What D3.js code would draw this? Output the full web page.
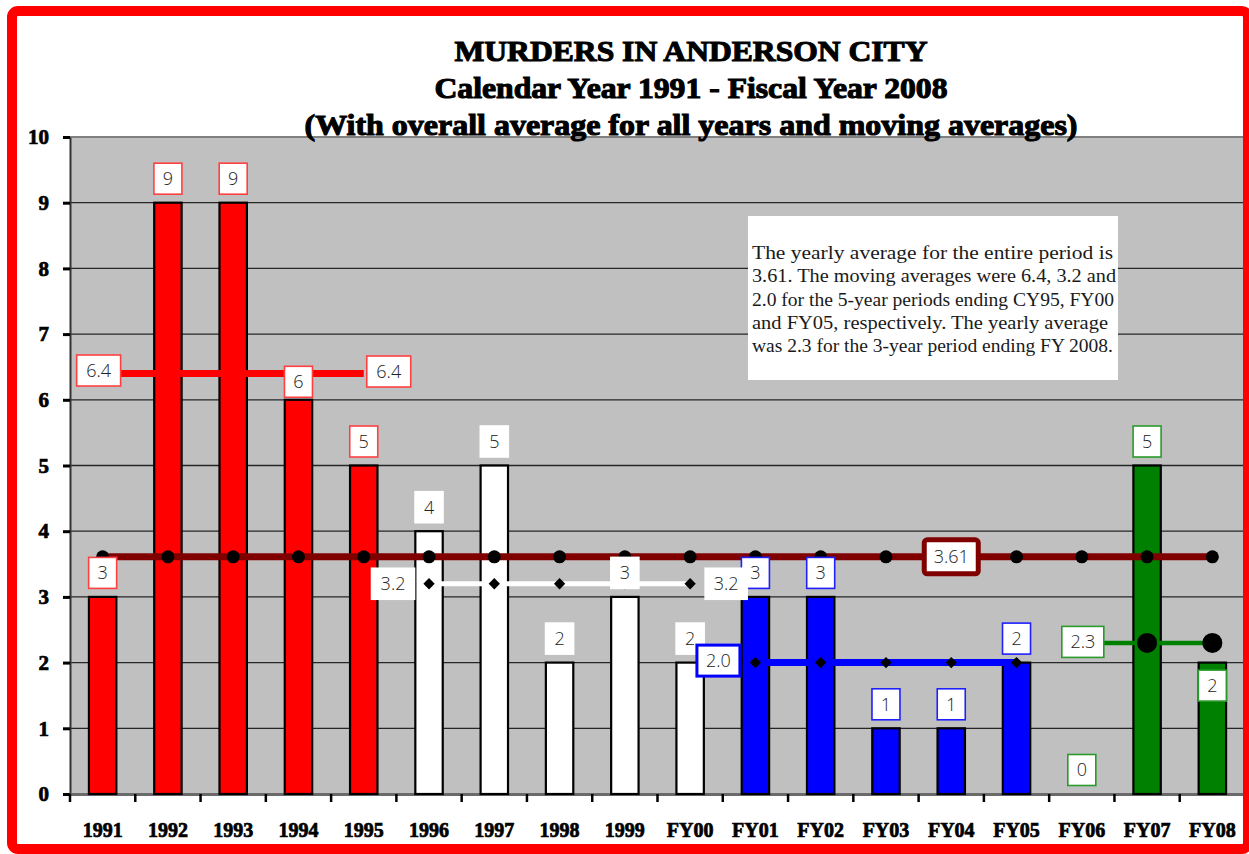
<!DOCTYPE html>
<html>
<head>
<meta charset="utf-8">
<script src="https://cdn.jsdelivr.net/npm/d3@7/dist/d3.min.js"></script>
<style>
  body { margin: 0; background: #fff; }
  svg { display: block; }
</style>
</head>
<body>
<script>
var width = 1249,
    height = 854;

// data
var categories = ['1991', '1992', '1993', '1994', '1995', '1996', '1997', '1998', '1999',
                  'FY00', 'FY01', 'FY02', 'FY03', 'FY04', 'FY05', 'FY06', 'FY07', 'FY08'];
var murders = [3, 9, 9, 6, 5, 4, 5, 2, 3, 2, 3, 3, 1, 1, 2, 0, 5, 2];
var period = [0, 0, 0, 0, 0, 1, 1, 1, 1, 1, 2, 2, 2, 2, 2, 3, 3, 3];
var overallAverage = 3.61;
var movingAverages = [6.4, 3.2, 2.0, 2.3];
var movingLabels = ['6.4', '3.2', '2.0', '2.3'];
var yTicks = [0, 1, 2, 3, 4, 5, 6, 7, 8, 9, 10];
var titleLines = ['MURDERS IN ANDERSON CITY',
                  'Calendar Year 1991 - Fiscal Year 2008',
                  '(With overall average for all years and moving averages)'];
var noteLines = ['The yearly average for the entire period is',
                 '3.61.  The moving averages were 6.4, 3.2 and',
                 '2.0 for the 5-year periods ending CY95, FY00',
                 'and FY05, respectively.  The yearly average',
                 'was 2.3 for the 3-year period ending FY 2008.'];

var barFill = ['#ff0000', '#ffffff', '#0000ff', '#008000'],
    labelStroke = ['#ff4040', '#ffffff', '#2020ff', '#2a9a2a'],
    lineColor = ['#ff0000', '#ffffff', '#0000ff', '#008000'];

var plotL = 70, plotR = 1245, plotT = 137, plotB = 794;

var x = d3.scaleBand().domain(categories).range([plotL, plotR]),
    y = d3.scaleLinear().domain([0, 10]).range([plotB, plotT]);
var cx = function(c) { return x(c) + x.bandwidth() / 2; };
var barW = x.bandwidth() * 0.42;

var svg = d3.select('body').append('svg')
    .attr('width', width)
    .attr('height', height);

svg.append('rect')
    .attr('width', width).attr('height', height)
    .attr('fill', '#fff');

// plot background
svg.append('rect')
    .attr('x', plotL).attr('y', plotT)
    .attr('width', plotR - plotL).attr('height', plotB - plotT)
    .attr('fill', '#c0c0c0');
svg.append('line')
    .attr('x1', plotL).attr('x2', plotR).attr('y1', plotT).attr('y2', plotT)
    .attr('stroke', '#808080').attr('stroke-width', 2);

// gridlines
svg.append('g').selectAll('line')
    .data(yTicks.slice(1, -1))
    .join('line')
    .attr('x1', plotL).attr('x2', plotR)
    .attr('y1', function(d) { return y(d); })
    .attr('y2', function(d) { return y(d); })
    .attr('stroke', '#262626').attr('stroke-width', 1.3);

// y axis
var yAxis = svg.append('g')
    .attr('transform', 'translate(' + plotL + ',0)')
    .call(d3.axisLeft(y).tickValues(yTicks).tickSize(7).tickPadding(14).tickSizeOuter(0));
yAxis.select('.domain').attr('stroke', '#333').attr('stroke-width', 2);
yAxis.selectAll('.tick line').attr('stroke', '#000').attr('stroke-width', 3);
yAxis.selectAll('.tick text')
    .attr('fill', '#000').attr('stroke', '#000').attr('stroke-width', 0.7)
    .style('font-family', '"Liberation Serif", serif')
    .style('font-weight', 'bold')
    .style('font-size', '21px');

// x axis: labels at centres, ticks at band edges
var xAxis = svg.append('g')
    .attr('transform', 'translate(0,' + plotB + ')')
    .call(d3.axisBottom(x).tickSize(0).tickPadding(29).tickSizeOuter(0));
xAxis.select('.domain').attr('stroke', '#6a6a6a').attr('stroke-width', 3);
xAxis.selectAll('.tick text')
    .attr('fill', '#000').attr('stroke', '#000').attr('stroke-width', 0.7)
    .style('font-family', '"Liberation Serif", serif')
    .style('font-weight', 'bold')
    .style('font-size', '20px');
xAxis.selectAll('.edge')
    .data(categories.map(function(c) { return x(c); }).concat([plotR]))
    .join('line')
    .attr('class', 'edge')
    .attr('x1', function(d) { return d; }).attr('x2', function(d) { return d; })
    .attr('y1', 0).attr('y2', 8)
    .attr('stroke', '#000').attr('stroke-width', 2.5);

// bars
svg.append('g').selectAll('rect')
    .data(murders)
    .join('rect')
    .attr('x', function(d, i) { return cx(categories[i]) - barW / 2; })
    .attr('y', function(d) { return y(d); })
    .attr('width', barW)
    .attr('height', function(d) { return plotB - y(d); })
    .attr('fill', function(d, i) { return barFill[period[i]]; })
    .attr('stroke', '#000').attr('stroke-width', 2.2);

// overall average line
svg.append('line')
    .attr('x1', cx(categories[0])).attr('x2', cx(categories[categories.length - 1]))
    .attr('y1', y(overallAverage)).attr('y2', y(overallAverage))
    .attr('stroke', '#800000').attr('stroke-width', 7);
svg.append('g').selectAll('circle')
    .data(categories)
    .join('circle')
    .attr('cx', cx).attr('cy', y(overallAverage))
    .attr('r', 6.5).attr('fill', '#000');

// moving average segments
function periodCats(p) {
    return categories.filter(function(c, i) { return period[i] === p; });
}
movingAverages.forEach(function(v, p) {
    var cats = periodCats(p);
    svg.append('line')
        .attr('x1', cx(cats[0])).attr('x2', cx(cats[cats.length - 1]))
        .attr('y1', y(v)).attr('y2', y(v))
        .attr('stroke', lineColor[p])
        .attr('stroke-width', p === 1 ? 5 : (p === 3 ? 4.5 : 7));
    if (p === 1 || p === 2) {
        svg.append('g').selectAll('rect')
            .data(cats)
            .join('rect')
            .attr('x', -4).attr('y', -4).attr('width', 8).attr('height', 8)
            .attr('transform', function(c) { return 'translate(' + cx(c) + ',' + y(v) + ')rotate(45)'; })
            .attr('fill', '#000');
    }
    if (p === 3) {
        svg.append('g').selectAll('circle')
            .data(cats.slice(1))
            .join('circle')
            .attr('cx', cx).attr('cy', y(v))
            .attr('r', 10).attr('fill', '#000');
    }
});

// label boxes
function labelBox(cxv, cyv, txt, stroke, sw, w) {
    var g = svg.append('g').attr('transform', 'translate(' + cxv + ',' + cyv + ')');
    var h = 31;
    g.append('rect')
        .attr('x', -w / 2).attr('y', -h / 2).attr('width', w).attr('height', h)
        .attr('fill', '#fff').attr('stroke', stroke).attr('stroke-width', sw);
    g.append('text')
        .attr('text-anchor', 'middle').attr('dy', '0.36em')
        .attr('fill', '#222')
        .style('font-family', '"Open Sans", "DejaVu Sans", sans-serif')
        .style('font-weight', 300)
        .style('font-size', '18px')
        .text(txt);
    return g;
}

// bar value labels
murders.forEach(function(v, i) {
    var c = categories[i], off = -24;
    if (c === '1994') off = -18;
    if (c === 'FY08') off = 23;
    labelBox(cx(c), y(v) + off, String(v), labelStroke[period[i]], 1.6, 28);
});

// moving average labels
var p0 = periodCats(0), p1 = periodCats(1), p2 = periodCats(2), p3 = periodCats(3);
labelBox(cx(p0[0]) - 4, y(movingAverages[0]) - 3, movingLabels[0], labelStroke[0], 1.6, 44);
labelBox(cx(p0[p0.length - 1]) + 25, y(movingAverages[0]) - 2, movingLabels[0], labelStroke[0], 1.6, 44);
labelBox(cx(p1[0]) - 36, y(movingAverages[1]), movingLabels[1], '#fff', 1.6, 43);
labelBox(cx(p1[p1.length - 1]) + 36, y(movingAverages[1]), movingLabels[1], '#fff', 1.6, 42);
labelBox(cx(p2[0]) - 37, y(movingAverages[2]) - 2, movingLabels[2], '#0000ff', 3, 43);
labelBox(cx(p3[0]) + 1, y(movingAverages[3]) - 1, movingLabels[3], labelStroke[3], 1.6, 42);

// overall average label
var avgG = svg.append('g')
    .attr('transform', 'translate(' + cx('FY04') + ',' + y(overallAverage) + ')');
avgG.append('rect')
    .attr('x', -27).attr('y', -17).attr('width', 54).attr('height', 34)
    .attr('rx', 3)
    .attr('fill', '#fff').attr('stroke', '#800000').attr('stroke-width', 5);
avgG.append('text')
    .attr('text-anchor', 'middle').attr('dy', '0.36em')
    .attr('fill', '#222')
    .style('font-family', '"Open Sans", "DejaVu Sans", sans-serif')
    .style('font-weight', 300)
    .style('font-size', '18px')
    .text(String(overallAverage));

// note box
svg.append('rect')
    .attr('x', 748).attr('y', 216).attr('width', 370).attr('height', 164)
    .attr('fill', '#fff');
var noteWidths = [361, 364, 362, 356, 361];
svg.append('g').selectAll('text')
    .data(noteLines)
    .join('text')
    .attr('x', 752)
    .attr('y', function(d, i) { return 259 + i * 23.3; })
    .attr('textLength', function(d, i) { return noteWidths[i]; })
    .attr('lengthAdjust', 'spacingAndGlyphs')
    .attr('fill', '#1a1a1a')
    .style('font-family', '"Liberation Serif", serif')
    .style('font-size', '18px')
    .text(function(d) { return d; });

// title
var titleWidths = [473, 513, 773];
svg.append('g').selectAll('text')
    .data(titleLines)
    .join('text')
    .attr('x', 691)
    .attr('y', function(d, i) { return 61 + i * 37; })
    .attr('text-anchor', 'middle')
    .attr('textLength', function(d, i) { return titleWidths[i]; })
    .attr('lengthAdjust', 'spacingAndGlyphs')
    .attr('fill', '#000').attr('stroke', '#000').attr('stroke-width', 1.1)
    .style('font-family', '"Liberation Serif", serif')
    .style('font-weight', 'bold')
    .style('font-size', '30px')
    .text(function(d) { return d; });

// red frame
svg.append('rect')
    .attr('x', 12).attr('y', 11)
    .attr('width', 1236).attr('height', 838)
    .attr('rx', 6)
    .attr('fill', 'none')
    .attr('stroke', '#ff0000').attr('stroke-width', 10);
</script>
</body>
</html>
